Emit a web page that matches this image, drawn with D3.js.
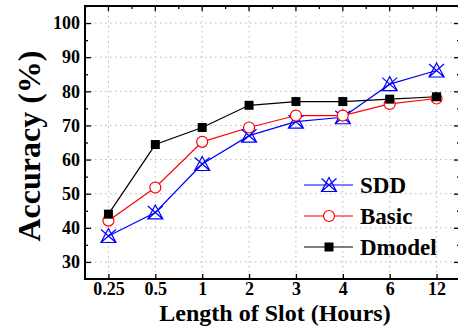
<!DOCTYPE html>
<html>
<head>
<meta charset="utf-8">
<script src="https://cdn.jsdelivr.net/npm/d3@7"></script>
<style>
  html, body { margin: 0; padding: 0; background: #fff; }
  svg { display: block; font-family: "Liberation Serif", "DejaVu Serif", serif; font-weight: bold; }
</style>
</head>
<body>
<svg id="chart" width="458" height="328"></svg>
<script>
const slots = ['0.25', '0.5', '1', '2', '3', '4', '6', '12'];
const sddValues = [37.6, 44.5, 58.7, 67.0, 71.1, 72.4, 82.1, 86.1];
const basicValues = [42.1, 51.8, 65.2, 69.4, 72.9, 72.9, 76.3, 77.9];
const dmodelValues = [44.0, 64.4, 69.4, 75.9, 77.0, 77.0, 77.7, 78.4];
const yTicks = [30, 40, 50, 60, 70, 80, 90, 100];
const yMinorTicks = [30, 35, 40, 45, 50, 55, 60, 65, 70, 75, 80, 85, 90, 95, 100, 105];

const series = [
  { name: 'SDD', values: sddValues, color: '#0000ff', marker: 'startri' },
  { name: 'Basic', values: basicValues, color: '#ff0000', marker: 'circle' },
  { name: 'Dmodel', values: dmodelValues, color: '#000000', marker: 'square' }
];

const margin = { left: 85, top: 6, right: 460, bottom: 279 };
const svg = d3.select('#chart');

const x = d3.scalePoint().domain(slots).range([margin.left, margin.right]).padding(0.5);
const y = d3.scaleLinear().domain([25, 105]).range([margin.bottom, margin.top]);

// dotted grid
const grid = svg.append('g')
  .attr('stroke', '#b8b8b8')
  .attr('stroke-width', 1)
  .attr('stroke-dasharray', '1.5,3.5');
grid.selectAll('line.h')
  .data(yTicks)
  .join('line')
  .attr('class', 'h')
  .attr('x1', margin.left).attr('x2', margin.right)
  .attr('y1', d => y(d)).attr('y2', d => y(d));
grid.selectAll('line.v')
  .data(slots)
  .join('line')
  .attr('class', 'v')
  .attr('x1', d => x(d)).attr('x2', d => x(d))
  .attr('y1', margin.top).attr('y2', margin.bottom);

// axes with inward ticks
const minorTick = d => (d % 10 === 0 ? 6 : 3);

svg.append('g')
  .attr('transform', `translate(${margin.left},0)`)
  .call(d3.axisLeft(y).tickValues(yMinorTicks).tickSize(0).tickFormat(''))
  .call(g => g.select('.domain').remove())
  .call(g => g.selectAll('.tick line').attr('x2', d => minorTick(d)).attr('stroke', '#000').attr('stroke-width', 1.3));

svg.append('g')
  .attr('transform', `translate(${margin.left},0)`)
  .call(d3.axisLeft(y).tickValues(yTicks).tickSize(0).tickPadding(5))
  .call(g => g.select('.domain').remove())
  .call(g => g.selectAll('text')
    .attr('font-size', 18)
    .attr('font-family', '"Liberation Serif", serif')
    .attr('font-weight', 'bold')
    .attr('fill', '#000'));

svg.append('g')
  .attr('transform', `translate(${margin.right},0)`)
  .call(d3.axisRight(y).tickValues(yMinorTicks).tickSize(0).tickFormat(''))
  .call(g => g.select('.domain').remove())
  .call(g => g.selectAll('.tick line').attr('x2', d => -minorTick(d)).attr('stroke', '#000').attr('stroke-width', 1.3));

svg.append('g')
  .attr('transform', `translate(0,${margin.bottom})`)
  .call(d3.axisBottom(x).tickSize(0).tickPadding(3))
  .call(g => g.select('.domain').remove())
  .call(g => g.selectAll('.tick line').attr('y2', -5).attr('stroke', '#000').attr('stroke-width', 1.3))
  .call(g => g.selectAll('text')
    .attr('font-size', 18)
    .attr('font-family', '"Liberation Serif", serif')
    .attr('font-weight', 'bold')
    .attr('fill', '#000'));

// top ticks: majors on categories, minors half way between
const step = x.step();
const topMinor = slots.slice(0, -1).map(d => x(d) + step / 2);
const topAxis = svg.append('g').attr('stroke', '#000').attr('stroke-width', 1.3);
topAxis.selectAll('line.maj')
  .data(slots)
  .join('line')
  .attr('x1', d => x(d)).attr('x2', d => x(d))
  .attr('y1', margin.top).attr('y2', margin.top + 5);
topAxis.selectAll('line.min')
  .data(topMinor)
  .join('line')
  .attr('x1', d => d).attr('x2', d => d)
  .attr('y1', margin.top).attr('y2', margin.top + 3);

// frame
svg.append('rect')
  .attr('x', margin.left).attr('y', margin.top)
  .attr('width', margin.right - margin.left)
  .attr('height', margin.bottom - margin.top)
  .attr('fill', 'none')
  .attr('stroke', '#000')
  .attr('stroke-width', 2);

// markers
function drawMarker(g, type, color) {
  if (type === 'circle') {
    g.append('circle').attr('r', 5.5).attr('fill', '#fff').attr('stroke', color).attr('stroke-width', 1.2);
  } else if (type === 'square') {
    g.append('rect').attr('x', -4.5).attr('y', -4.5).attr('width', 9).attr('height', 9).attr('fill', color);
  } else {
    g.append('path')
      .attr('d', 'M0,-7.5L7.5,6.5L-7.5,6.5Z M-7.5,-6.5L7.5,6.5 M7.5,-6.5L-7.5,6.5')
      .attr('fill', 'none')
      .attr('stroke', color)
      .attr('stroke-width', 1.2);
  }
}

const line = d3.line().x((d, i) => x(slots[i])).y(d => y(d));

series.forEach(s => {
  svg.append('path')
    .datum(s.values)
    .attr('d', line)
    .attr('fill', 'none')
    .attr('stroke', s.color)
    .attr('stroke-width', 1.2);
});
series.forEach(s => {
  s.values.forEach((v, i) => {
    const g = svg.append('g').attr('transform', `translate(${x(slots[i])},${y(v)})`);
    drawMarker(g, s.marker, s.color);
  });
});

// legend
const legend = svg.append('g');
series.forEach((s, i) => {
  const cy = 185 + i * 31;
  legend.append('line')
    .attr('x1', 304).attr('x2', 353)
    .attr('y1', cy).attr('y2', cy)
    .attr('stroke', s.color).attr('stroke-width', 1.2);
  const g = legend.append('g').attr('transform', `translate(329,${cy})`);
  drawMarker(g, s.marker, s.color);
  legend.append('text')
    .attr('x', 360).attr('y', cy + 8)
    .attr('font-size', 23)
    .text(s.name);
});

// axis titles
svg.append('text')
  .attr('x', 275).attr('y', 321)
  .attr('text-anchor', 'middle')
  .attr('font-size', 24)
  .text('Length of Slot (Hours)');

svg.append('text')
  .attr('transform', 'translate(40,146) rotate(-90)')
  .attr('text-anchor', 'middle')
  .attr('font-size', 32)
  .text('Accuracy (%)');
</script>
</body>
</html>
